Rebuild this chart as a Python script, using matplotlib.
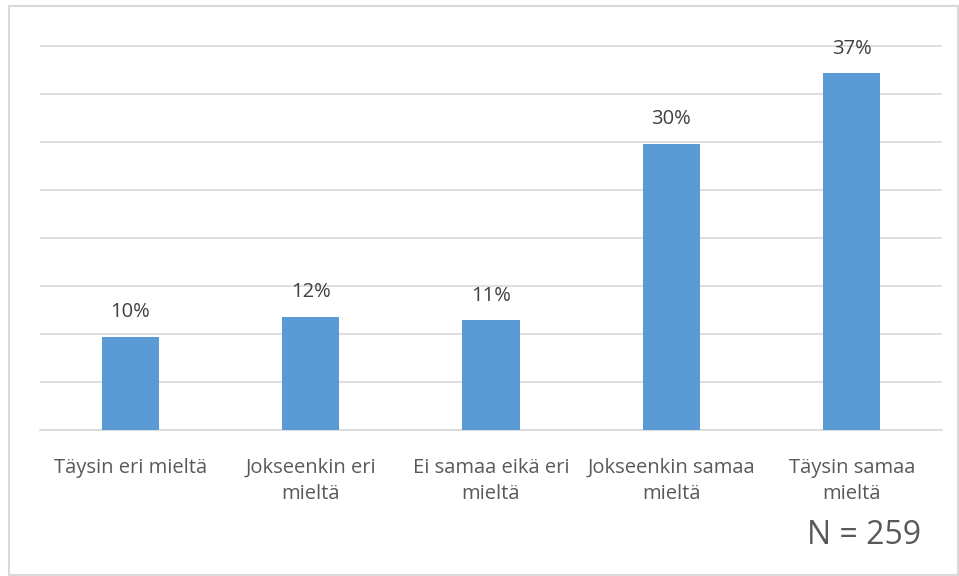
import matplotlib.pyplot as plt
from matplotlib.patches import Rectangle

categories = ["Täysin eri mieltä", "Jokseenkin eri\nmieltä", "Ei samaa eikä eri\nmieltä",
              "Jokseenkin samaa\nmieltä", "Täysin samaa\nmieltä"]
values = [9.7, 11.8, 11.45, 29.8, 37.15]
labels = ["10%", "12%", "11%", "30%", "37%"]
n_text = "N = 259"

plt.rcParams['font.family'] = ['Open Sans', 'DejaVu Sans']

fig = plt.figure(figsize=(9.59, 5.76), dpi=100)
W, H = 959, 576
ax = fig.add_axes([40 / W, 1 - 430 / H, 902 / W, 385 / H])

x = range(len(categories))
ax.bar(x, values, width=0.316, color='#5b9bd5', zorder=3)
for i, (v, lab) in enumerate(zip(values, labels)):
    ax.text(i, v + 1.5, lab, ha='center', va='bottom', fontsize=14.5, color='#404040')

ax.set_xlim(-0.5, len(categories) - 0.5)
ax.set_ylim(0, 40.1)
ax.set_yticks(range(0, 41, 5))
ax.yaxis.grid(True, color='#d9d9d9', linewidth=1.2, zorder=0)
ax.set_yticklabels([])
ax.tick_params(axis='both', length=0)
ax.set_xticks(list(x))
ax.set_xticklabels(categories, fontsize=14.5, color='#595959', linespacing=1.4)
ax.tick_params(axis='x', pad=20)
for s in ['top', 'right', 'left']:
    ax.spines[s].set_visible(False)
ax.spines['bottom'].set_color('#d9d9d9')
ax.spines['bottom'].set_linewidth(1.2)

fig.text(864 / W, 1 - 536 / H, n_text, ha='center', va='center', fontsize=23, color='#595959')

fig.patches.append(Rectangle((8.5 / W, 1.5 / H), 949 / W, 569 / H, transform=fig.transFigure,
                             fill=False, edgecolor='#d9d9d9', linewidth=1.5))

fig.savefig('out.png', dpi=100)
